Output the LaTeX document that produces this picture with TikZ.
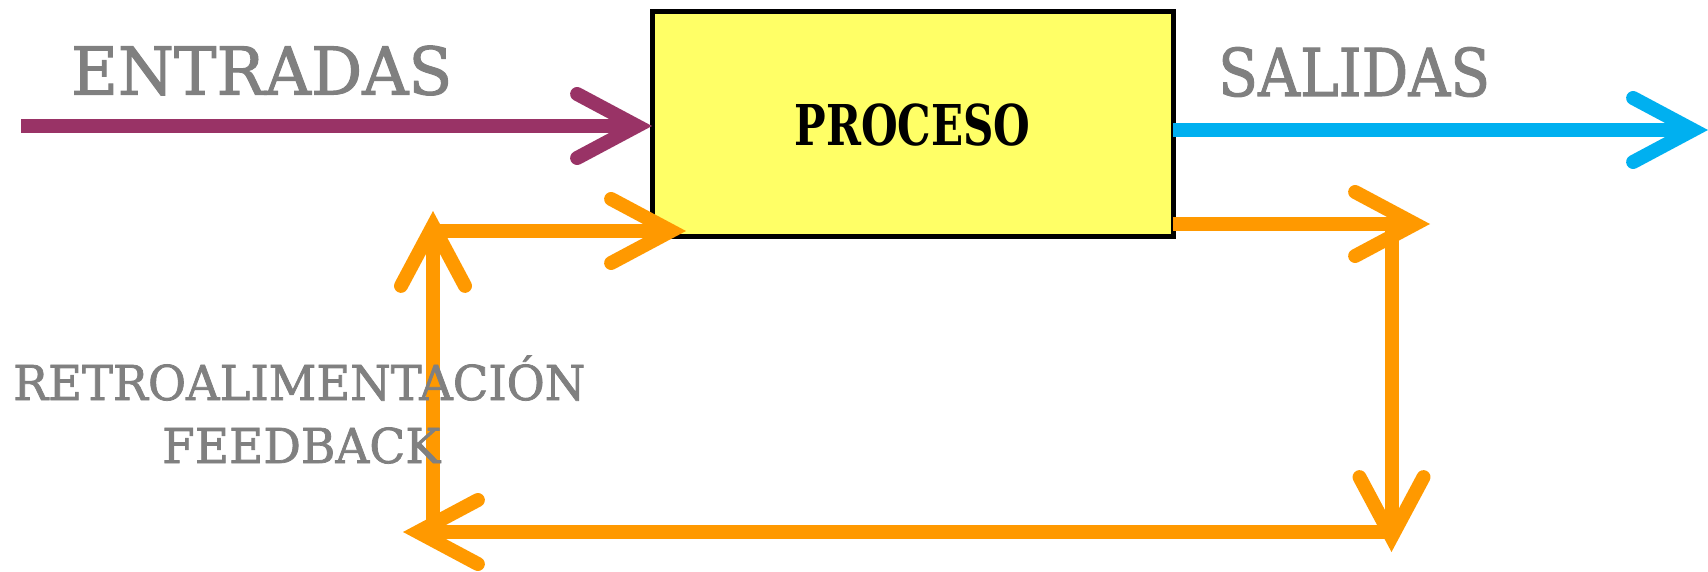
\documentclass[tikz,border=0pt]{standalone}
\usepackage{fontspec}
\usepackage{graphicx}
\setmainfont{DejaVu Serif}
\newfontfamily\lblfont[FakeBold=1.6]{DejaVu Serif}
\usetikzlibrary{arrows.meta}
\definecolor{cpurple}{HTML}{993366}
\definecolor{cblue}{HTML}{00B0F0}
\definecolor{corange}{HTML}{FF9900}
\definecolor{cyellow}{HTML}{FFFF66}
\definecolor{cgray}{HTML}{808080}
\newcommand{\fittext}[3]{\resizebox{#1pt}{#2pt}{\vphantom{E}\smash{#3}}}
\begin{document}
\begin{tikzpicture}[x=1pt,y=1pt,
  flow/.style={line width=14pt, -{Straight Barb[length=60pt,width=64pt,line cap=round,line join=miter]}},
  lbl/.style={inner sep=0pt, anchor=base west, text=cgray, font=\lblfont},
  procbox/.style={draw=black, fill=cyellow, line width=5pt, minimum width=521pt, minimum height=225pt, inner sep=0pt, outer sep=0pt}]
\useasboundingbox (0,0) rectangle (1708,571);
\node[procbox] (box) at (912.5,446.5) {\fittext{236}{41}{\bfseries PROCESO}};
% coordinates
\coordinate (inS) at (21,445);
\coordinate (outE) at (1708,441);
\coordinate (fbR) at (1430,347);
\coordinate (rTop) at (1391.5,340);
\coordinate (rBot) at (1391.5,19);
\coordinate (bR) at (1391.5,39);
\coordinate (bL) at (403,39);
\coordinate (lB) at (433,45);
\coordinate (lT) at (433,360);
\coordinate (ulS) at (440,340);
\coordinate (ulT) at (686,340);
% connectors
\draw[flow,cpurple] (inS) -- (inS -| box.west);
\draw[flow,cblue] (box.east |- outE) -- (outE);
\draw[flow,corange] (box.east |- fbR) -- (fbR);
\draw[flow,corange] (rTop) -- (rBot);
\draw[flow,corange] (bR) -- (bL);
\draw[flow,corange] (lB) -- (lT);
\draw[flow,corange] (ulS) -- (ulT);
% labels
\node[lbl] (entradas) at (71,476.5) {\fittext{381}{48}{ENTRADAS}};
\node[lbl] (salidas) at (1218,475) {\fittext{272}{48}{SALIDAS}};
\node[lbl] (retro) at (13,171) {\fittext{572}{35}{RETROALIMENTACIÓN}};
\node[lbl] (feedback) at (162,108) {\fittext{278}{35}{FEEDBACK}};
\end{tikzpicture}
\end{document}
